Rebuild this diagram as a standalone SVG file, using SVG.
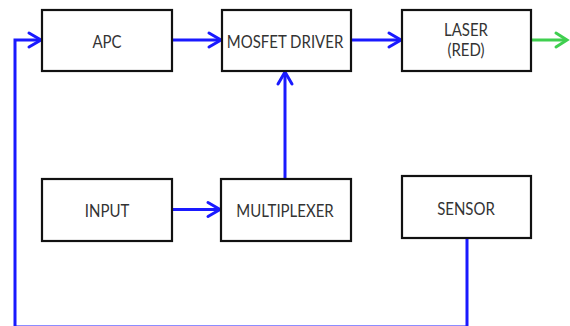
<svg xmlns="http://www.w3.org/2000/svg" width="570" height="326" viewBox="0 0 570 326">
<defs>
<style>
.box{fill:#fff;stroke:#111;stroke-width:2.2}
.lbl{font-family:Lato,"Liberation Sans",sans-serif;font-size:15px;fill:#333;text-anchor:middle}
.wire{fill:none;stroke:#1a1aff;stroke-width:3}
.green{fill:none;stroke:#3fcf4f;stroke-width:3}
.head{fill:none;stroke:#1a1aff;stroke-width:3;stroke-linecap:round;stroke-linejoin:miter}
.gh{fill:none;stroke:#3fcf4f;stroke-width:3;stroke-linecap:round}
</style>
</defs>
<rect width="570" height="326" fill="#fff"/>
<g id="connectors">
<path class="wire" d="M15,327 V40 H40"/>
<path class="head" d="M29,33 L41,40 L29,47"/>
<path class="wire" d="M172,40 H220"/>
<path class="head" d="M209,33 L221,40 L209,47"/>
<path class="wire" d="M351,40 H400"/>
<path class="head" d="M389,33 L401,40 L389,47"/>
<path class="green" d="M531,40 H566"/>
<path class="gh" d="M556,33 L567,40 L556,47"/>
<path class="wire" d="M172,209.5 H219"/>
<path class="head" d="M208,202.5 L220,209.5 L208,216.5"/>
<path class="wire" d="M285,178 V73"/>
<path class="head" d="M278,84 L285,72 L292,84"/>
<path class="wire" d="M467,239 V327 H15"/>
</g>
<g id="apc"><rect class="box" x="42" y="10" width="130" height="61"/><text class="lbl" transform="matrix(1,0,0,1.2,107,47.5)">APC</text></g>
<g id="mosfet"><rect class="box" x="222" y="10" width="129" height="61"/><text class="lbl" transform="matrix(1,0,0,1.2,285,48)">MOSFET DRIVER</text></g>
<g id="laser"><rect class="box" x="402" y="10" width="129" height="61"/><text class="lbl" transform="matrix(1,0,0,1.2,466,36)">LASER</text><text class="lbl" transform="matrix(1,0,0,1.2,466,56)">(RED)</text></g>
<g id="input"><rect class="box" x="42" y="179" width="130" height="62"/><text class="lbl" transform="matrix(1,0,0,1.2,107,217)">INPUT</text></g>
<g id="multiplexer"><rect class="box" x="221" y="179" width="130" height="62"/><text class="lbl" transform="matrix(1,0,0,1.2,285,217)">MULTIPLEXER</text></g>
<g id="sensor"><rect class="box" x="402" y="176" width="129" height="62"/><text class="lbl" transform="matrix(1,0,0,1.2,466,215)">SENSOR</text></g>
</svg>
